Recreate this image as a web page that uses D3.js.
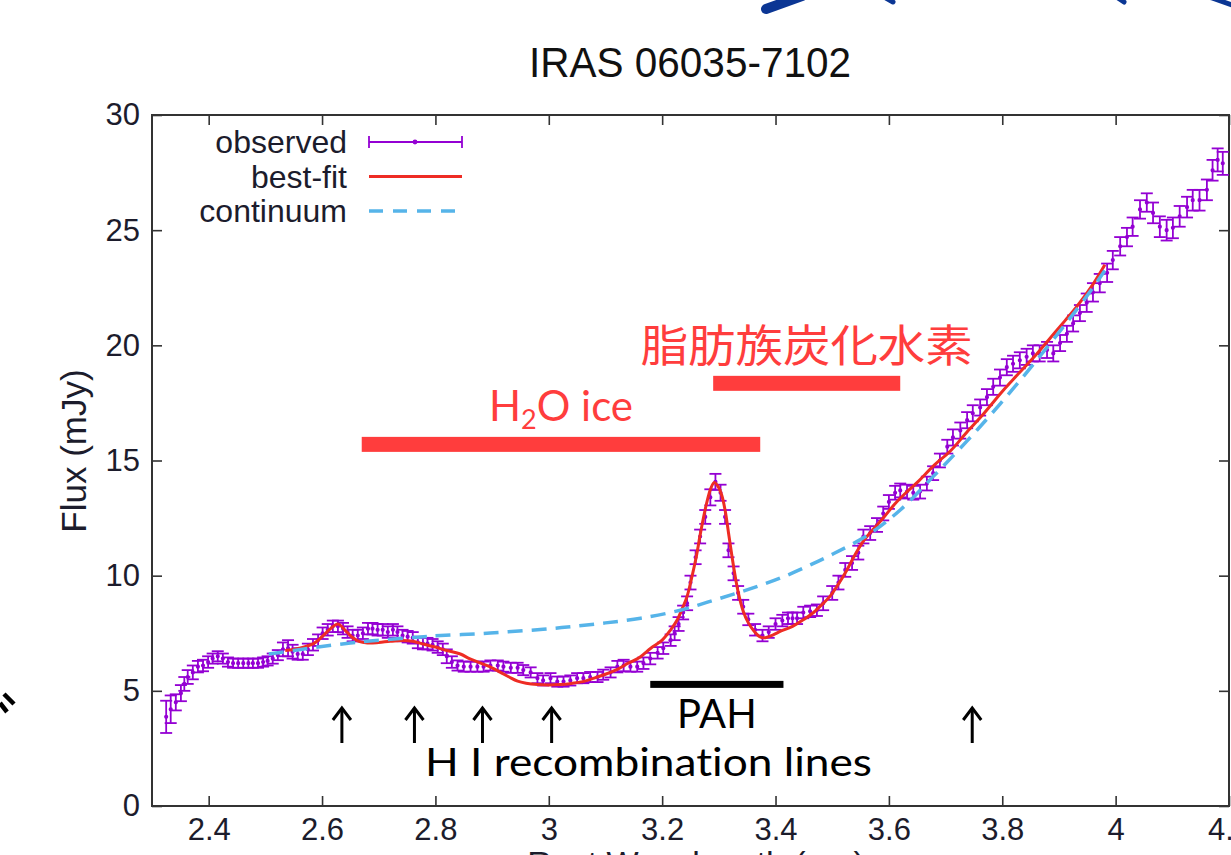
<!DOCTYPE html>
<html>
<head>
<meta charset="utf-8">
<script src="https://cdn.jsdelivr.net/npm/d3@7"></script>
<style>
  body { margin: 0; background: #fff; }
  svg { display: block; }
</style>
</head>
<body>
<script>
// IRAS 06035-7102 spectrum: observed points, best-fit and continuum

// observed spectrum (rest wavelength in um, flux in mJy, half error bar)
var obsWave = [
    2.325, 2.333, 2.342, 2.351, 2.357, 2.363, 2.372, 2.381, 2.390, 2.399,
    2.407, 2.416, 2.425, 2.434, 2.443, 2.452, 2.461, 2.470, 2.478, 2.487,
    2.496, 2.504, 2.513, 2.522, 2.531, 2.540, 2.548, 2.557, 2.566, 2.575,
    2.584, 2.593, 2.601, 2.610, 2.619, 2.628, 2.637, 2.645, 2.654, 2.663,
    2.672, 2.681, 2.689, 2.698, 2.707, 2.716, 2.725, 2.733, 2.742, 2.751,
    2.760, 2.769, 2.778, 2.786, 2.795, 2.804, 2.813, 2.820, 2.829, 2.839,
    2.850, 2.862, 2.874, 2.885, 2.897, 2.910, 2.920, 2.933, 2.945, 2.955,
    2.968, 2.980, 2.990, 3.003, 3.015, 3.026, 3.038, 3.050, 3.061, 3.073,
    3.086, 3.096, 3.109, 3.121, 3.132, 3.144, 3.156, 3.167, 3.179, 3.192,
    3.202, 3.215, 3.222, 3.229, 3.237, 3.244, 3.250, 3.259, 3.267, 3.276,
    3.285, 3.294, 3.303, 3.311, 3.317, 3.326, 3.334, 3.343, 3.352, 3.364,
    3.377, 3.388, 3.400, 3.412, 3.422, 3.430, 3.438, 3.449, 3.461, 3.473,
    3.484, 3.500, 3.511, 3.523, 3.535, 3.546, 3.555, 3.567, 3.579, 3.590,
    3.600, 3.611, 3.620, 3.632, 3.643, 3.655, 3.667, 3.678, 3.690, 3.703,
    3.713, 3.726, 3.738, 3.748, 3.761, 3.773, 3.784, 3.796, 3.808, 3.819,
    3.831, 3.843, 3.854, 3.866, 3.879, 3.890, 3.902, 3.914, 3.925, 3.937,
    3.949, 3.960, 3.972, 3.985, 3.995, 4.008, 4.020, 4.030, 4.043, 4.055,
    4.066, 4.078, 4.090, 4.101, 4.113, 4.126, 4.136, 4.148, 4.161, 4.171,
    4.180, 4.189
];
var obsFlux = [
    3.87, 4.2, 4.5, 4.9, 5.3, 5.6, 5.8, 6.05, 6.1, 6.25,
    6.4, 6.5, 6.4, 6.25, 6.2, 6.2, 6.2, 6.2, 6.2, 6.2,
    6.25, 6.3, 6.4, 6.55, 6.8, 6.85, 6.7, 6.6, 6.6, 6.8,
    7.0, 7.2, 7.5, 7.65, 7.8, 7.8, 7.7, 7.55, 7.4, 7.4,
    7.5, 7.7, 7.7, 7.65, 7.65, 7.55, 7.65, 7.55, 7.4, 7.35,
    7.3, 7.1, 7.05, 7.05, 7.0, 6.9, 6.8, 6.5, 6.25, 6.1,
    6.05, 6.05, 6.05, 6.05, 6.1, 6.1, 6.05, 6.0, 6.0, 5.9,
    5.8, 5.55, 5.45, 5.55, 5.4, 5.4, 5.45, 5.55, 5.55, 5.6,
    5.6, 5.7, 5.8, 6.05, 6.1, 6.05, 6.05, 6.2, 6.4, 6.65,
    6.85, 7.2, 7.5, 7.9, 8.4, 8.8, 9.7, 10.8, 11.7, 12.55,
    13.4, 14.07, 13.6, 12.55, 11.1, 10.1, 9.25, 8.65, 8.1, 7.65,
    7.4, 7.55, 7.9, 8.05, 8.15, 8.15, 8.15, 8.4, 8.45, 8.5,
    8.8, 9.25, 9.7, 10.25, 10.55, 11.0, 11.7, 11.85, 12.2, 12.7,
    13.2, 13.6, 13.7, 13.65, 13.6, 13.65, 14.0, 14.45, 15.0, 15.6,
    16.0, 16.3, 16.75, 17.05, 17.3, 17.75, 18.2, 18.6, 19.05, 19.2,
    19.35, 19.5, 19.65, 19.65, 19.8, 19.65, 20.1, 20.5, 20.95, 21.4,
    21.85, 22.3, 22.7, 23.15, 23.7, 24.3, 24.7, 25.15, 25.9, 26.2,
    25.75, 25.15, 25.0, 25.1, 25.6, 26.0, 26.3, 26.3, 26.75, 27.6,
    28.05, 27.9
];
var obsErr = [
    0.7, 0.6, 0.35, 0.35, 0.3, 0.3, 0.3, 0.25, 0.25, 0.25,
    0.22, 0.22, 0.22, 0.2, 0.2, 0.2, 0.2, 0.2, 0.2, 0.2,
    0.2, 0.2, 0.22, 0.22, 0.3, 0.35, 0.3, 0.25, 0.25, 0.25,
    0.25, 0.25, 0.25, 0.25, 0.25, 0.25, 0.25, 0.25, 0.25, 0.25,
    0.25, 0.25, 0.25, 0.25, 0.25, 0.25, 0.25, 0.25, 0.25, 0.25,
    0.25, 0.25, 0.25, 0.25, 0.25, 0.25, 0.25, 0.3, 0.25, 0.22,
    0.22, 0.22, 0.22, 0.22, 0.22, 0.22, 0.22, 0.22, 0.22, 0.22,
    0.22, 0.22, 0.22, 0.22, 0.22, 0.22, 0.22, 0.22, 0.22, 0.22,
    0.22, 0.22, 0.22, 0.25, 0.25, 0.22, 0.22, 0.25, 0.25, 0.25,
    0.25, 0.25, 0.3, 0.3, 0.3, 0.3, 0.3, 0.3, 0.3, 0.3,
    0.35, 0.35, 0.35, 0.3, 0.3, 0.3, 0.3, 0.3, 0.25, 0.25,
    0.25, 0.25, 0.25, 0.25, 0.25, 0.25, 0.25, 0.25, 0.25, 0.25,
    0.3, 0.3, 0.3, 0.3, 0.3, 0.3, 0.3, 0.3, 0.3, 0.3,
    0.3, 0.3, 0.3, 0.3, 0.3, 0.3, 0.3, 0.3, 0.3, 0.3,
    0.35, 0.35, 0.35, 0.35, 0.35, 0.35, 0.35, 0.35, 0.35, 0.35,
    0.35, 0.35, 0.35, 0.35, 0.35, 0.35, 0.35, 0.35, 0.35, 0.35,
    0.4, 0.4, 0.4, 0.4, 0.4, 0.4, 0.4, 0.4, 0.4, 0.4,
    0.45, 0.45, 0.45, 0.45, 0.45, 0.45, 0.45, 0.45, 0.45, 0.45,
    0.5, 0.5
];

// best-fit model
var fitWave = [
    2.535, 2.56, 2.585, 2.60, 2.615, 2.628, 2.64, 2.652, 2.665, 2.68,
    2.70, 2.72, 2.74, 2.76, 2.78, 2.80, 2.82, 2.844, 2.86, 2.88,
    2.90, 2.915, 2.93, 2.945, 2.96, 2.98, 3.00, 3.02, 3.04, 3.06,
    3.08, 3.10, 3.12, 3.14, 3.16, 3.18, 3.20, 3.215, 3.227, 3.236,
    3.244, 3.252, 3.26, 3.268, 3.278, 3.286, 3.292, 3.298, 3.305, 3.311,
    3.318, 3.326, 3.334, 3.343, 3.352, 3.362, 3.372, 3.38, 3.395, 3.41,
    3.43, 3.45, 3.467, 3.48, 3.496, 3.51, 3.526, 3.54, 3.555, 3.57,
    3.59, 3.61, 3.63, 3.65, 3.68, 3.708, 3.74, 3.766, 3.80, 3.826,
    3.86, 3.884, 3.91, 3.932, 3.96, 3.981
];
var fitFlux = [
    6.75, 6.85, 7.05, 7.35, 7.7, 7.9, 7.65, 7.35, 7.15, 7.08,
    7.1, 7.15, 7.18, 7.15, 7.02, 6.9, 6.75, 6.6, 6.4, 6.2,
    6.0, 5.8, 5.6, 5.42, 5.33, 5.27, 5.25, 5.27, 5.32, 5.4,
    5.55, 5.72, 5.92, 6.2, 6.45, 6.85, 7.2, 7.65, 8.1, 8.6,
    9.1, 9.9, 10.8, 11.9, 13.1, 13.8, 14.05, 13.9, 13.5, 12.85,
    11.7, 10.4, 9.3, 8.45, 7.95, 7.6, 7.35, 7.3, 7.42, 7.6,
    7.8, 8.1, 8.4, 8.7, 9.1, 9.6, 10.25, 10.9, 11.5, 11.95,
    12.5, 13.1, 13.6, 14.05, 14.8, 15.4, 16.3, 17.0, 18.0, 18.7,
    19.6, 20.3, 21.05, 21.7, 22.65, 23.5
];

// continuum
var contWave = [
    2.506, 2.55, 2.593, 2.65, 2.70, 2.769, 2.809, 2.87, 2.927, 2.99,
    3.044, 3.10, 3.162, 3.232, 3.28, 3.326, 3.37, 3.414, 3.46, 3.502,
    3.562, 3.62, 3.678, 3.738, 3.796, 3.854, 3.914, 3.954, 3.981
];
var contFlux = [
    6.6, 6.75, 6.9, 7.08, 7.2, 7.33, 7.4, 7.47, 7.56, 7.67,
    7.8, 7.95, 8.15, 8.5, 8.85, 9.2, 9.55, 9.95, 10.45, 10.95,
    11.75, 12.85, 14.3, 15.85, 17.45, 19.15, 21.0, 22.3, 23.25
];

// axes
var xTicks = [2.4, 2.6, 2.8, 3.0, 3.2, 3.4, 3.6, 3.8, 4.0, 4.2];
var yTicks = [0, 5, 10, 15, 20, 25, 30];
var legendLabels = ["observed", "best-fit", "continuum"];

// annotations
var hiLineWave = [2.635, 2.763, 2.883, 3.005, 3.747];
var h2oBand = [2.670, 3.373, 15.7];
var aliphaticBand = [3.290, 3.620, 18.35];
var pahBand = [3.179, 3.414, 5.28];

var purple = "#9400d3", fitRed = "#ee2c24", contBlue = "#56b4e9", noteRed = "#ff3d3d";
var axisFont = "Liberation Sans, Arial, sans-serif", axisInk = "#1c1c2c";

var W = 1231, H = 855;
var plot = { left: 152, right: 1229, top: 115, bottom: 806 };

var svg = d3.select("body").append("svg")
    .attr("width", W)
    .attr("height", H);
svg.append("rect").attr("width", W).attr("height", H).attr("fill", "#fff");

var x = d3.scaleLinear().domain([2.3, 4.2]).range([plot.left, plot.right]);
var y = d3.scaleLinear().domain([0, 30]).range([plot.bottom, plot.top]);

// title
svg.append("text")
    .attr("x", 690).attr("y", 77)
    .attr("text-anchor", "middle")
    .attr("font-family", axisFont)
    .attr("font-size", 42)
    .attr("fill", "#111")
    .attr("textLength", 322)
    .attr("lengthAdjust", "spacingAndGlyphs")
    .text("IRAS 06035-7102");

// axes, ticks pointing inward on all four sides
function styleAxis(g) {
    g.select(".domain").remove();
    g.selectAll(".tick line").attr("stroke", "#333").attr("stroke-width", 1.6);
    g.selectAll(".tick text")
        .attr("font-family", axisFont)
        .attr("font-size", 31)
        .attr("fill", axisInk);
}
svg.append("g")
    .attr("transform", "translate(0," + plot.bottom + ")")
    .call(d3.axisBottom(x).tickValues(xTicks).tickSize(-10).tickPadding(12).tickFormat(d3.format("~g")))
    .call(styleAxis);
svg.append("g")
    .attr("transform", "translate(0," + plot.top + ")")
    .call(d3.axisTop(x).tickValues(xTicks).tickSize(-10).tickFormat(""))
    .call(styleAxis);
svg.append("g")
    .attr("transform", "translate(" + plot.left + ",0)")
    .call(d3.axisLeft(y).tickValues(yTicks).tickSize(-10).tickPadding(12))
    .call(styleAxis);
svg.append("g")
    .attr("transform", "translate(" + plot.right + ",0)")
    .call(d3.axisRight(y).tickValues(yTicks).tickSize(-10).tickFormat(""))
    .call(styleAxis);

svg.append("rect")
    .attr("x", plot.left).attr("y", plot.top)
    .attr("width", plot.right - plot.left).attr("height", plot.bottom - plot.top)
    .attr("fill", "none").attr("stroke", "#333").attr("stroke-width", 2);

// axis titles
svg.append("text")
    .attr("transform", "translate(86,451) rotate(-90)")
    .attr("text-anchor", "middle")
    .attr("font-family", axisFont)
    .attr("font-size", 35)
    .attr("fill", axisInk)
    .text("Flux (mJy)");
svg.append("text")
    .attr("x", 696).attr("y", 875)
    .attr("text-anchor", "middle")
    .attr("font-family", axisFont)
    .attr("font-size", 34)
    .attr("fill", axisInk)
    .text("Rest Wavelength (\u03bcm)");

// observed error bars
var obs = obsWave.map(function (w, i) {
    return { w: w, f: obsFlux[i], e: obsErr[i] };
});
var bars = svg.append("g").attr("stroke", purple).attr("stroke-width", 1.8).attr("fill", "none");
var pt = bars.selectAll("g").data(obs).enter().append("g");
pt.append("line")
    .attr("x1", function (d) { return x(d.w); }).attr("x2", function (d) { return x(d.w); })
    .attr("y1", function (d) { return y(d.f - d.e); }).attr("y2", function (d) { return y(d.f + d.e); });
pt.append("line")
    .attr("x1", function (d) { return x(d.w) - 6; }).attr("x2", function (d) { return x(d.w) + 6; })
    .attr("y1", function (d) { return y(d.f - d.e); }).attr("y2", function (d) { return y(d.f - d.e); });
pt.append("line")
    .attr("x1", function (d) { return x(d.w) - 6; }).attr("x2", function (d) { return x(d.w) + 6; })
    .attr("y1", function (d) { return y(d.f + d.e); }).attr("y2", function (d) { return y(d.f + d.e); });
pt.append("circle")
    .attr("cx", function (d) { return x(d.w); }).attr("cy", function (d) { return y(d.f); })
    .attr("r", 1.2).attr("fill", purple);

// best-fit line
var fitLine = d3.line()
    .x(function (d, i) { return x(fitWave[i]); })
    .y(function (d) { return y(d); })
    .curve(d3.curveCatmullRom);
svg.append("path")
    .datum(fitFlux)
    .attr("fill", "none").attr("stroke", fitRed).attr("stroke-width", 3)
    .attr("d", fitLine);

// continuum
var contLine = d3.line()
    .x(function (d, i) { return x(contWave[i]); })
    .y(function (d) { return y(d); })
    .curve(d3.curveCatmullRom);
svg.append("path")
    .datum(contFlux)
    .attr("fill", "none").attr("stroke", contBlue).attr("stroke-width", 3.5)
    .attr("stroke-dasharray", "15,9")
    .attr("d", contLine);

// legend
var legend = svg.append("g");
legendLabels.forEach(function (label, i) {
    var ly = 142 + i * 34.5;
    legend.append("text")
        .attr("x", 347).attr("y", ly + 11)
        .attr("text-anchor", "end")
        .attr("font-family", axisFont)
        .attr("font-size", 32)
        .attr("fill", axisInk)
        .text(label);
    if (i === 0) {
        var lg = legend.append("g").attr("stroke", purple).attr("stroke-width", 1.8);
        lg.append("line").attr("x1", 369).attr("x2", 462).attr("y1", ly).attr("y2", ly);
        lg.append("line").attr("x1", 369).attr("x2", 369).attr("y1", ly - 6).attr("y2", ly + 6);
        lg.append("line").attr("x1", 462).attr("x2", 462).attr("y1", ly - 6).attr("y2", ly + 6);
        lg.append("circle").attr("cx", 415).attr("cy", ly).attr("r", 1.5).attr("fill", purple);
    } else if (i === 1) {
        legend.append("line").attr("x1", 369).attr("x2", 462).attr("y1", ly).attr("y2", ly)
            .attr("stroke", fitRed).attr("stroke-width", 3);
    } else {
        legend.append("line").attr("x1", 369).attr("x2", 462).attr("y1", ly).attr("y2", ly)
            .attr("stroke", contBlue).attr("stroke-width", 3.5).attr("stroke-dasharray", "14,10");
    }
});

// feature bands
function band(b, color, thick) {
    svg.append("rect")
        .attr("x", x(b[0])).attr("width", x(b[1]) - x(b[0]))
        .attr("y", y(b[2]) - thick / 2).attr("height", thick)
        .attr("fill", color);
}
band(h2oBand, noteRed, 15);
band(aliphaticBand, noteRed, 15);
band(pahBand, "#000", 7);

var noteFont = "Lato, 'Open Sans', sans-serif";
var noteStyle = "font-variant-ligatures: none; font-feature-settings: 'liga' 0;";
var h2o = svg.append("text")
    .attr("x", x((h2oBand[0] + h2oBand[1]) / 2)).attr("y", y(h2oBand[2]) - 23)
    .attr("text-anchor", "middle")
    .attr("font-family", noteFont).attr("font-size", 42)
    .attr("style", noteStyle)
    .attr("fill", noteRed);
h2o.append("tspan").text("H");
h2o.append("tspan").attr("font-size", 27).attr("dy", 8).text("2");
h2o.append("tspan").attr("dy", -8).text("O ice");

svg.append("text")
    .attr("x", x((aliphaticBand[0] + aliphaticBand[1]) / 2)).attr("y", y(aliphaticBand[2]) - 21)
    .attr("text-anchor", "middle")
    .attr("font-family", "'Noto Sans CJK JP', sans-serif").attr("font-size", 44)
    .attr("textLength", 332).attr("lengthAdjust", "spacingAndGlyphs")
    .attr("fill", noteRed)
    .text("脂肪族炭化水素");

svg.append("text")
    .attr("x", x((pahBand[0] + pahBand[1]) / 2)).attr("y", y(pahBand[2]) + 44)
    .attr("text-anchor", "middle")
    .attr("font-family", noteFont).attr("font-size", 40)
    .attr("style", noteStyle)
    .attr("fill", "#000")
    .text("PAH");

// H I recombination line markers
var arrows = svg.append("g").attr("stroke", "#000").attr("stroke-width", 3).attr("fill", "none");
hiLineWave.forEach(function (w) {
    var ax = x(w);
    arrows.append("line").attr("x1", ax).attr("x2", ax).attr("y1", 708).attr("y2", 743);
    arrows.append("path").attr("d", "M" + (ax - 9) + ",720 L" + ax + ",708 L" + (ax + 9) + ",720");
});
svg.append("text")
    .attr("x", 425).attr("y", 776)
    .attr("font-family", noteFont).attr("font-size", 38)
    .attr("style", noteStyle)
    .attr("textLength", 447).attr("lengthAdjust", "spacingAndGlyphs")
    .attr("fill", "#000")
    .text("H I recombination lines");

// fragments of the surrounding slide
svg.append("path")
    .attr("d", "M766,9 L802,-4")
    .attr("stroke", "#0b3694").attr("stroke-width", 10).attr("stroke-linecap", "round");
svg.append("path")
    .attr("d", "M886,-2 L893,2 M1118,-2 L1124,2 M1212,-2 L1232,5")
    .attr("stroke", "#0b3694").attr("stroke-width", 5).attr("stroke-linecap", "round");
svg.append("path")
    .attr("d", "M4,694 L14,704 M0,703 L7,712")
    .attr("stroke", "#000").attr("stroke-width", 4.5);
</script>
</body>
</html>
